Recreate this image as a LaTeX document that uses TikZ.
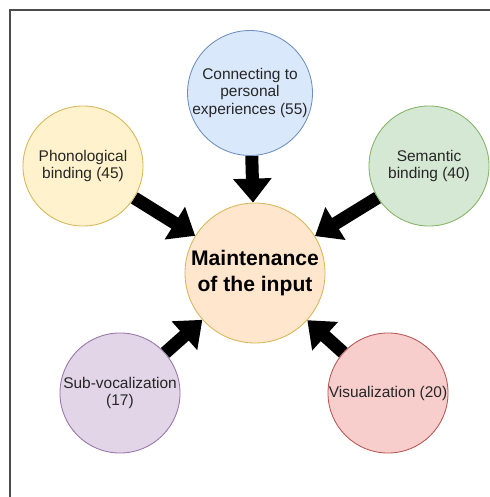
\documentclass[tikz,border=0pt]{standalone}
\usepackage{fontspec}
\setmainfont{Liberation Sans}
\usetikzlibrary{arrows.meta,backgrounds,positioning}
\definecolor{blueF}{HTML}{DAE8FC}\definecolor{blueD}{HTML}{6C8EBF}
\definecolor{yellF}{HTML}{FFF2CC}\definecolor{yellD}{HTML}{D6B656}
\definecolor{greenF}{HTML}{D5E8D4}\definecolor{greenD}{HTML}{82B366}
\definecolor{purpF}{HTML}{E1D5E7}\definecolor{purpD}{HTML}{9673A6}
\definecolor{redF}{HTML}{F8CECC}\definecolor{redD}{HTML}{B85450}
\definecolor{orF}{HTML}{FFE6CC}
\tikzstyle{bubble}=[circle, draw, line width=0.6pt, minimum size=3cm, inner sep=0pt, align=center, text=black!85, font=\fontsize{11}{12.5}\selectfont]
\tikzstyle{hub}=[bubble, minimum size=3.5cm, text=black, font=\fontsize{15}{18.5}\selectfont\bfseries]
\tikzstyle{push}=[line width=0.325cm, -{Triangle[length=0.6cm,width=0.925cm]}]

\begin{document}
\begin{tikzpicture}[x=0.025cm, y=-0.025cm]
      \useasboundingbox (0,0) rectangle (490,497);
      \draw[black!70, line width=0.8pt] (10,497) -- (10,10) -- (490,10);
      % 
      \node at (255,273) [hub, fill=orF, draw=yellD] (main) {Maintenance\\of the input};
      \node at (250,93) [bubble, fill=blueF, draw=blueD] (conn) {Connecting to\\personal\\experiences (55)};
      \node at (83,166) [bubble, fill=yellF, draw=yellD] (phon) {Phonological\\binding (45)};
      \node at (429,166) [bubble, fill=greenF, draw=greenD] (sem) {Semantic\\binding (40)};
      \node at (120,393) [bubble, fill=purpF, draw=purpD] (sub) {Sub-vocalization\\(17)};
      \node at (388,393) [bubble, fill=redF, draw=redD] (vis) {Visualization (20)};
      %
      \begin{pgfonlayer}{background}
        \foreach \src in {conn,phon,sem,sub,vis}
          \draw[push] (\src) -- (main);
      \end{pgfonlayer}
      \end{tikzpicture}
\end{document}
